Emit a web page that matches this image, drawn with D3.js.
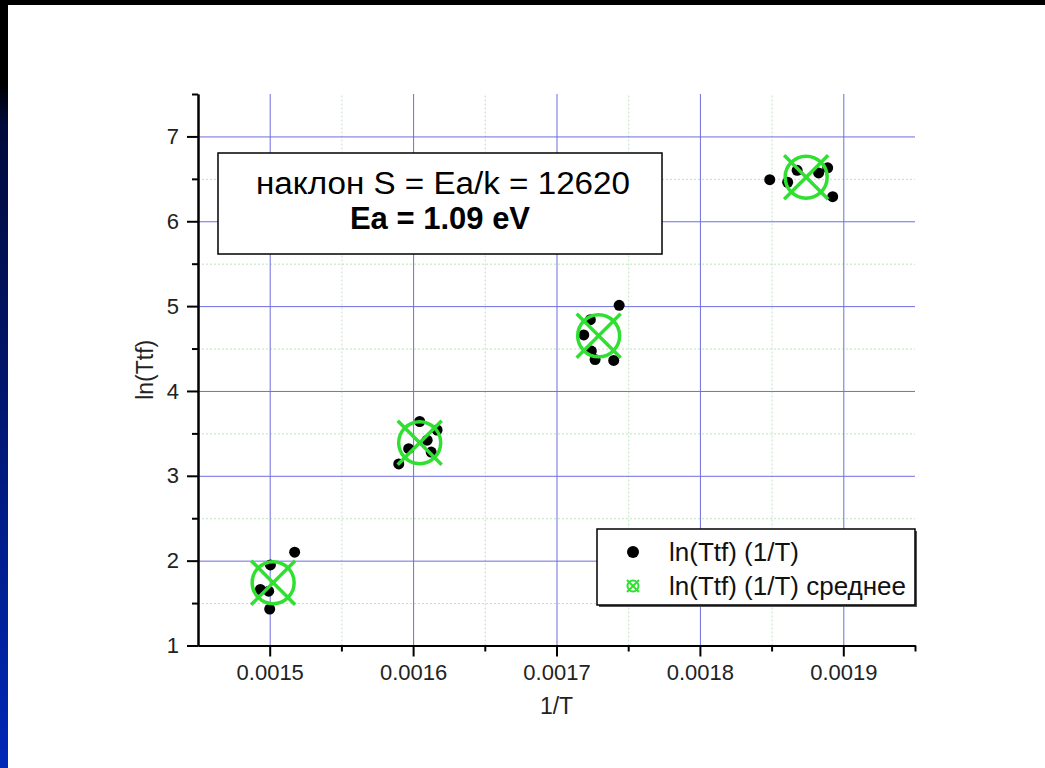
<!DOCTYPE html>
<html><head><meta charset="utf-8">
<script src="https://cdn.jsdelivr.net/npm/d3@7"></script>
<style>
html,body{margin:0;padding:0;background:#fff;overflow:hidden}
svg{display:block;font-family:"Liberation Sans",Arial,sans-serif}
</style></head>
<body>
<svg id="chart" width="1045" height="768"></svg>
<script>
// ---- data ----
const pointsX = [0.0015174,0.0015005,0.0014935,0.0014993,0.0015000,
                 0.0016046,0.0016167,0.0016098,0.0015969,0.0016126,0.0015900,
                 0.0017437,0.0017236,0.0017190,0.0017243,0.0017269,0.0017399,
                 0.0018487,0.0018612,0.0018678,0.0018828,0.0018891,0.0018926];
const pointsY = [2.10,1.95,1.66,1.64,1.43,
                 3.64,3.54,3.42,3.32,3.28,3.14,
                 5.01,4.84,4.66,4.47,4.37,4.36,
                 6.49,6.46,6.60,6.57,6.63,6.29];
const meanX = [0.0015024,0.0016046,0.0017294,0.0018741];
const meanY = [1.74,3.39,4.65,6.52];
const xMajorTicks = [0.0015,0.0016,0.0017,0.0018,0.0019];
const xMinorTicks = [0.00155,0.00165,0.00175,0.00185,0.00195];
const yMajorTicks = [1,2,3,4,5,6,7];
const yMinorTicks = [1.5,2.5,3.5,4.5,5.5,6.5,7.5];
const xTitle = "1/T";
const yTitle = "ln(Ttf)";
const boxLines = ["наклон S = Ea/k = 12620","Ea = 1.09 eV"];
const legendLabels = ["ln(Ttf) (1/T)","ln(Ttf) (1/T) среднее"];

// ---- layout ----
const svg = d3.select("#chart");
const L = 198, R = 915, T = 94, B = 645.5;
const green = "#30e030", gridBlue = "#6e6ee0", minorGreen = "#bfe3bf";
const font = '"Liberation Sans",Arial,sans-serif';

// slide decoration
const defs = svg.append("defs");
const lg = defs.append("linearGradient").attr("id","strip").attr("x1",0).attr("y1",0).attr("x2",0).attr("y2",1);
lg.append("stop").attr("offset","0").attr("stop-color","#000000");
lg.append("stop").attr("offset","0.11").attr("stop-color","#000000");
lg.append("stop").attr("offset","0.16").attr("stop-color","#000a3a");
lg.append("stop").attr("offset","1").attr("stop-color","#0028b8");
svg.append("rect").attr("x",0).attr("y",0).attr("width",1045).attr("height",768).attr("fill","#fff");
svg.append("rect").attr("x",0).attr("y",0).attr("width",8).attr("height",768).attr("fill","url(#strip)");
svg.append("rect").attr("x",0).attr("y",0).attr("width",1045).attr("height",5).attr("fill","#000");

const x = d3.scaleLinear().domain([0.00145,0.00195]).range([L,R]);
const y = d3.scaleLinear().domain([1,7.5]).range([B,T]);

// minor grid
const g = svg.append("g");
g.append("g").attr("transform",`translate(0,${B})`)
  .call(d3.axisBottom(x).tickValues(xMinorTicks.filter(v=>v<0.00195)).tickSize(-(B-T)).tickFormat(""))
  .call(s=>{s.select(".domain").remove();s.selectAll("line").attr("stroke",minorGreen).attr("stroke-width",1).attr("stroke-dasharray","2,2");});
g.append("g").attr("transform",`translate(${L},0)`)
  .call(d3.axisLeft(y).tickValues(yMinorTicks.filter(v=>v<7.5)).tickSize(-(R-L)).tickFormat(""))
  .call(s=>{s.select(".domain").remove();s.selectAll("line").attr("stroke",minorGreen).attr("stroke-width",1).attr("stroke-dasharray","2,2");});
// major grid
g.append("g").attr("transform",`translate(0,${B})`)
  .call(d3.axisBottom(x).tickValues(xMajorTicks).tickSize(-(B-T)).tickFormat(""))
  .call(s=>{s.select(".domain").remove();s.selectAll("line").attr("stroke",gridBlue).attr("stroke-width",1);});
g.append("g").attr("transform",`translate(${L},0)`)
  .call(d3.axisLeft(y).tickValues(yMajorTicks.filter(v=>v>1)).tickSize(-(R-L)).tickFormat(""))
  .call(s=>{s.select(".domain").remove();s.selectAll("line").attr("stroke",gridBlue).attr("stroke-width",1);});

// annotation box (opaque)
const bx0 = 218, bx1 = 662, by0 = 153, by1 = 254;
svg.append("rect").attr("x",bx0).attr("y",by0).attr("width",bx1-bx0).attr("height",by1-by0)
  .attr("fill","#fff").attr("stroke","#000").attr("stroke-width",1.5);
svg.append("text").attr("x",(bx0+bx1)/2+3).attr("y",194).attr("text-anchor","middle")
  .attr("font-size",31).attr("fill","#000")
  .attr("textLength",374).attr("lengthAdjust","spacingAndGlyphs").text(boxLines[0]);
svg.append("text").attr("x",(bx0+bx1)/2).attr("y",229).attr("text-anchor","middle")
  .attr("font-size",31).attr("font-weight","bold").attr("fill","#000").text(boxLines[1]);

// axes
function styleAxis(s){
  s.select(".domain").attr("stroke","#000").attr("stroke-width",2);
  s.selectAll(".tick line").attr("stroke","#000").attr("stroke-width",2);
  s.selectAll(".tick text").attr("font-family",font).attr("font-size",22).attr("fill","#222");
}
svg.append("g").attr("transform",`translate(0,${B})`)
  .call(d3.axisBottom(x).tickValues(xMinorTicks).tickSize(6).tickSizeOuter(0).tickFormat(""))
  .call(styleAxis);
svg.append("g").attr("transform",`translate(0,${B})`)
  .call(d3.axisBottom(x).tickValues(xMajorTicks).tickSize(11).tickSizeOuter(0).tickPadding(8).tickFormat(d3.format(".4f")))
  .call(styleAxis);
svg.append("g").attr("transform",`translate(${L},0)`)
  .call(d3.axisLeft(y).tickValues(yMinorTicks).tickSize(6).tickSizeOuter(0).tickFormat(""))
  .call(styleAxis);
svg.append("g").attr("transform",`translate(${L},0)`)
  .call(d3.axisLeft(y).tickValues(yMajorTicks).tickSize(11).tickSizeOuter(0).tickPadding(8).tickFormat(d3.format("d")))
  .call(styleAxis);

// axis titles
svg.append("text").attr("x",(L+R)/2).attr("y",714).attr("text-anchor","middle")
  .attr("font-size",23).attr("fill","#222").text(xTitle);
svg.append("text").attr("transform",`translate(153,${(T+B)/2}) rotate(-90)`).attr("text-anchor","middle")
  .attr("font-size",23).attr("fill","#222").text(yTitle);

// data points
svg.append("g").selectAll("circle").data(pointsX.map((v,i)=>[v,pointsY[i]])).join("circle")
  .attr("cx",d=>x(d[0])).attr("cy",d=>y(d[1])).attr("r",5.5).attr("fill","#000");

// mean markers
function meanMarker(sel, r, a, sw){
  sel.append("circle").attr("r",r).attr("fill","none").attr("stroke",green).attr("stroke-width",sw);
  sel.append("line").attr("x1",-a).attr("y1",-a).attr("x2",a).attr("y2",a).attr("stroke",green).attr("stroke-width",sw);
  sel.append("line").attr("x1",-a).attr("y1",a).attr("x2",a).attr("y2",-a).attr("stroke",green).attr("stroke-width",sw);
}
svg.append("g").selectAll("g").data(meanX.map((v,i)=>[v,meanY[i]])).join("g")
  .attr("transform",d=>`translate(${x(d[0])},${y(d[1])})`)
  .each(function(){meanMarker(d3.select(this),21,22,3.5);});

// legend
const lx0 = 597, lx1 = 915, ly0 = 529, ly1 = 605;
svg.append("rect").attr("x",lx0+2).attr("y",ly0+2).attr("width",lx1-lx0).attr("height",ly1-ly0).attr("fill","#555");
svg.append("rect").attr("x",lx0).attr("y",ly0).attr("width",lx1-lx0).attr("height",ly1-ly0)
  .attr("fill","#fff").attr("stroke","#000").attr("stroke-width",1.5);
svg.append("circle").attr("cx",633).attr("cy",552).attr("r",6).attr("fill","#000");
const lm = svg.append("g").attr("transform","translate(633,586)");
meanMarker(lm,5.5,6,2);
legendLabels.forEach((t,i)=>{
  svg.append("text").attr("x",669).attr("y",561+i*34).attr("font-size",26).attr("fill","#111").text(t);
});
</script>
</body></html>
